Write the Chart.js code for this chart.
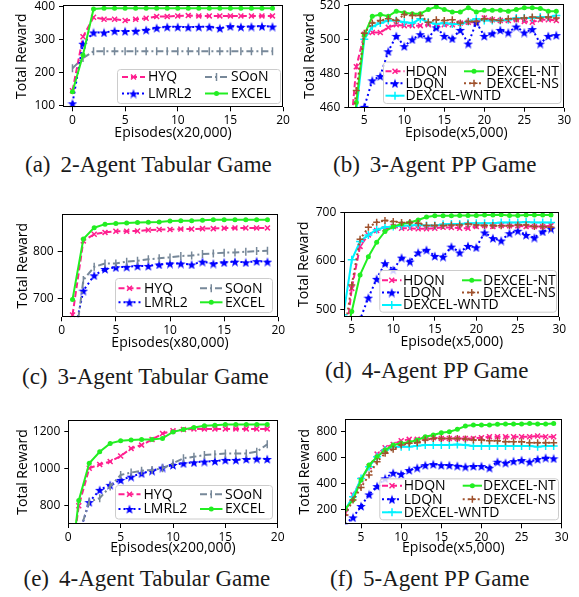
<!DOCTYPE html>
<html lang="en">
<head>
<meta charset="UTF-8" />
<title>Total reward curves</title>
<script src="https://cdn.jsdelivr.net/npm/chart.js"></script>
<style>
  html, body { margin: 0; padding: 0; background: #fff; }
  body { position: relative; width: 579px; height: 597px; overflow: hidden; }
  canvas { position: absolute; }
  .cap {
    position: absolute;
    transform: translateY(-50%);
    white-space: nowrap;
    font-family: "Liberation Serif", "Times New Roman", serif;
    font-size: 23px;
    color: #1a1a1a;
  }
  .cap span { margin-right: 10px; }
</style>
</head>
<body>
<div class="cap" style="left:25px;top:165px"><span>(a)</span>2-Agent Tabular Game</div>
<div class="cap" style="left:333px;top:165px"><span>(b)</span>3-Agent PP Game</div>
<div class="cap" style="left:22px;top:377px"><span>(c)</span>3-Agent Tabular Game</div>
<div class="cap" style="left:325px;top:371px"><span>(d)</span>4-Agent PP Game</div>
<div class="cap" style="left:23.5px;top:579px"><span>(e)</span>4-Agent Tabular Game</div>
<div class="cap" style="left:330px;top:579px"><span>(f)</span>5-Agent PP Game</div>

<script>
// ---------- data ----------
// (a) 2-agent tabular game, episodes x20,000
const epA = [0, 1, 2, 3, 4, 5, 6, 7, 8, 9, 10, 11, 12, 13, 14, 15, 16, 17, 18, 19];
const hyqA = [146, 309, 368, 362, 362, 358, 362, 365, 370, 370, 372, 373, 372, 372, 372, 372, 372, 372, 372, 372];
const lmrl2A = [108, 288, 322, 322, 327, 326, 327, 330, 336, 339, 339, 338, 339, 339, 335, 341, 339, 340, 341, 340];
const soonA = [214, 245, 265, 265, 265, 265, 265, 265, 265, 265, 265, 265, 265, 265, 265, 265, 265, 265, 265, 265];
const excelA = [143, 254, 393, 395, 395, 395, 395, 395, 395, 395, 395, 395, 395, 395, 395, 395, 395, 395, 395, 395];

// (b) 3-agent PP game, episode x5,000
const epB = [3, 4, 5, 6, 7, 8, 9, 10, 11, 12, 13, 14, 15, 16, 17, 18, 19, 20, 21, 22, 23, 24, 25, 26, 27, 28, 29];
const hdqnB = [430, 484, 503, 504, 504, 507, 508.5, 508, 508, 508, 508.5, 507.5, 508.5, 508.5, 509.5, 510, 510, 512.5, 511.5, 511, 511, 511.5, 510.5, 510, 511.5, 511.5, 511];
const ldqnB = [380, 420, 460.5, 476, 478.5, 493, 502, 496, 500, 503, 500.5, 507, 502, 500.5, 505.5, 497.5, 510, 502, 503.5, 505.5, 504, 507.5, 504, 506, 497.5, 502, 502.5];
const wntdB = [400, 458, 500, 507.5, 509.5, 511, 511, 510, 509.5, 512, 510, 509, 509.5, 509, 509, 510.5, 512, 511, 511, 511, 511.5, 512.5, 512.5, 512.5, 513, 513, 514];
const ntB = [400, 463, 502.5, 513.5, 514.5, 513.5, 516.5, 515.5, 515, 515, 517.5, 519, 517.5, 516, 516, 518.5, 516, 517, 517, 517, 516.5, 517.5, 518.5, 518.5, 518, 516.5, 516.5];
const nsB = [430, 470, 503.5, 509.5, 511, 512, 511, 514.5, 514, 514, 510, 511.5, 511, 511.5, 509.5, 510.5, 510.5, 512, 511.5, 511, 512, 512, 512.5, 513, 512.5, 513, 512.5];

// (c) 3-agent tabular game, episodes x80,000
const epC = [1, 2, 3, 4, 5, 6, 7, 8, 9, 10, 11, 12, 13, 14, 15, 16, 17, 18, 19];
const hyqC = [666, 823, 837, 841, 843.5, 843.5, 844, 846, 847, 847, 848, 848, 849, 849, 850, 850.5, 850.5, 850.5, 850.5];
const lmrl2C = [609, 717.5, 750, 763.5, 767, 768, 770, 770, 773, 775, 775, 773, 779, 775, 777.5, 779, 777.5, 780, 779];
const soonC = [564, 740, 768, 775, 775, 779, 781, 784, 786, 788, 791, 792, 795, 796.5, 798, 798.5, 800, 801.5, 802];
const excelC = [699, 827, 851, 858.5, 860, 861, 862, 862.5, 863, 865, 865.5, 865.5, 867, 868, 868, 868, 868, 868, 868];

// (d) 4-agent PP game, episode x5,000
const epD = [4, 5, 6, 7, 8, 9, 10, 11, 12, 13, 14, 15, 16, 17, 18, 19, 20, 21, 22, 23, 24, 25, 26, 27, 28, 29];
const hdqnD = [400, 544, 630, 653.5, 662.5, 666, 670.5, 667, 667, 666, 666, 667, 669, 668.5, 667, 667, 670.5, 672.5, 670.5, 672.5, 672, 672, 670.5, 670.5, 670.5, 672.5];
const ldqnD = [380, 420, 480, 525, 563.5, 595.5, 582, 607, 599, 617.5, 623, 610.5, 609, 629.5, 617.5, 631, 628, 658.5, 647, 642, 657, 662, 653.5, 648, 660.5, 666.5];
const wntdD = [490, 602.5, 640, 653.5, 664, 669, 670.5, 672, 672.5, 674, 672.5, 672.5, 675.5, 676, 676, 677.5, 677.5, 677.5, 677.5, 679, 679, 679, 680, 679, 679, 679];
const ntD = [430, 496.5, 571.5, 609, 638.5, 660.5, 670.5, 676, 679, 684, 690, 692.5, 692.5, 692.5, 693, 693, 693, 694, 694, 694.5, 693, 693, 694, 694, 694, 694];
const nsD = [440, 551, 644.5, 669, 679.5, 683, 681, 679, 679, 677.5, 672.5, 672.5, 672.5, 674, 674, 676, 674, 672.5, 672.5, 672, 672, 674, 674, 670.5, 670.5, 669];

// (e) 4-agent tabular game, episodes x200,000
const epE = [0, 1, 2, 3, 4, 5, 6, 7, 8, 9, 10, 11, 12, 13, 14, 15, 16, 17, 18, 19];
const hyqE = [380, 798, 1000, 1021, 1036, 1066, 1107, 1125, 1155, 1187, 1202, 1209, 1212, 1212, 1212, 1212, 1212, 1212, 1212, 1212];
const lmrl2E = [400, 640, 818, 884, 911, 937.5, 955, 973, 987, 1004, 1018, 1027, 1032, 1036, 1039, 1045, 1045, 1050, 1052, 1050];
const soonE = [400, 640, 821, 839, 902, 964, 977, 987, 991, 1000, 1027, 1054, 1062, 1071, 1075, 1080, 1080, 1080, 1089, 1129];
const excelE = [360, 827, 1027, 1089, 1134, 1148, 1152, 1155, 1155, 1161, 1196, 1209, 1220, 1229, 1232, 1236, 1236, 1236, 1236, 1236];

// (f) 5-agent PP game, episode x5,000
const epF = [3, 4, 5, 6, 7, 8, 9, 10, 11, 12, 13, 14, 15, 16, 17, 18, 19, 20, 21, 22, 23, 24, 25, 26, 27, 28, 29];
const hdqnF = [169, 311, 427, 530, 627, 676, 702, 730, 741, 741, 748, 754, 748, 748, 748, 748, 748, 754, 761, 761, 761, 761, 761, 761, 767, 761, 761];
const ldqnF = [87, 138, 226, 316, 380, 440, 483, 473, 504, 522, 542, 550, 542, 542, 537, 530, 535, 535, 522, 568, 560, 573, 581, 568, 589, 599, 594];
const wntdF = [195, 298, 439, 530, 607, 658, 684, 684, 684, 692, 697, 697, 697, 697, 702, 697, 689, 689, 689, 689, 689, 689, 689, 689, 684, 689, 689];
const ntF = [200, 272, 427, 542, 607, 658, 697, 710, 718, 736, 761, 774, 792, 800, 818, 844, 851, 851, 851, 857, 859, 859, 859, 864, 859, 859, 864];
const nsF = [156, 272, 370, 465, 568, 633, 664, 697, 710, 715, 736, 748, 748, 748, 748, 743, 736, 736, 730, 730, 723, 723, 723, 715, 715, 715, 715];

// tick labels
const xTicks20 = [0, 5, 10, 15, 20];
const xTicks30 = [5, 10, 15, 20, 25, 30];
const yTicksA = [100, 200, 300, 400];
const yTicksB = [460, 480, 500, 520];
const yTicksC = [700, 800];
const yTicksD = [500, 600, 700];
const yTicksE = [800, 1000, 1200];
const yTicksF = [200, 400, 600, 800];

// ---------- styles ----------
const FONT = '"Open Sans", "Noto Sans", sans-serif';
const PINK = '#ff1f8f', BLUE = '#0000ff', GRAY = '#778899',
      GREEN = '#22ee22', CYAN = '#00f2ff', BROWN = '#a0522d';

function makeStar(color, size) {
  const c = document.createElement('canvas');
  c.width = c.height = size;
  const g = c.getContext('2d');
  const r = size / 2, ri = r * 0.42;
  g.beginPath();
  for (let k = 0; k < 10; k++) {
    const rad = k % 2 ? ri : r;
    const a = -Math.PI / 2 + k * Math.PI / 5;
    const px = r + rad * Math.cos(a), py = r + rad * Math.sin(a) + 0.6;
    k ? g.lineTo(px, py) : g.moveTo(px, py);
  }
  g.closePath();
  g.fillStyle = color;
  g.fill();
  return c;
}
const starImg = makeStar(BLUE, 10);

const stPink = { borderColor: PINK, borderDash: [6, 3], pointStyle: 'crossRot', pointRadius: 3.5,
                 pointBorderWidth: 1.5, pointBorderColor: PINK, pointBackgroundColor: PINK };
const stBlue = { borderColor: BLUE, borderDash: [2, 3], pointStyle: starImg, pointRadius: 5,
                 pointBorderWidth: 0, pointBorderColor: BLUE, pointBackgroundColor: BLUE };
const stGray = { borderColor: GRAY, borderDash: [7, 3, 2, 3], pointStyle: 'line', pointRotation: 90,
                 pointRadius: 4, pointBorderWidth: 1.5, pointBorderColor: GRAY, pointBackgroundColor: GRAY };
const stGreen = { borderColor: GREEN, pointStyle: 'circle', pointRadius: 2.5,
                  pointBorderWidth: 0, pointBorderColor: GREEN, pointBackgroundColor: GREEN };
const stCyan = { borderColor: CYAN, pointStyle: 'cross', pointRadius: 4,
                 pointBorderWidth: 1.5, pointBorderColor: CYAN, pointBackgroundColor: CYAN };
const stBrown = { borderColor: BROWN, borderDash: [2, 3], pointStyle: 'cross', pointRadius: 3.5,
                  pointBorderWidth: 1.5, pointBorderColor: BROWN, pointBackgroundColor: BROWN };

// ---------- plugins ----------
const framePlugin = {
  id: 'frame',
  afterDraw(chart) {
    const { ctx, chartArea: a } = chart;
    const l = Math.round(a.left) + 0.5, t = Math.round(a.top) + 0.5;
    const r = Math.round(a.right) - 0.5, b = Math.round(a.bottom) - 0.5;
    ctx.save();
    ctx.strokeStyle = '#000';
    ctx.lineWidth = 1;
    ctx.strokeRect(l, t, r - l, b - t);
    ctx.restore();
  }
};

function roundRect(ctx, x, y, w, h, r) {
  ctx.beginPath();
  ctx.moveTo(x + r, y);
  ctx.arcTo(x + w, y, x + w, y + h, r);
  ctx.arcTo(x + w, y + h, x, y + h, r);
  ctx.arcTo(x, y + h, x, y, r);
  ctx.arcTo(x, y, x + w, y, r);
  ctx.closePath();
}

// matplotlib-like legend inside the axes, columns filled top to bottom
function legendPlugin(lg, dx, dy) {
  return {
    id: 'boxLegend',
    afterDatasetsDraw(chart) {
      const ctx = chart.ctx;
      const [x0, y0, x1, y1] = lg.box;
      ctx.save();
      roundRect(ctx, x0 - dx + 0.5, y0 - dy + 0.5, x1 - x0, y1 - y0, 3);
      ctx.fillStyle = 'rgba(255,255,255,0.8)';
      ctx.fill();
      ctx.strokeStyle = '#cccccc';
      ctx.lineWidth = 1;
      ctx.stroke();
      const nRows = lg.rows.length;
      chart.data.datasets.forEach((ds, i) => {
        const col = lg.cols[Math.floor(i / nRows)];
        const y = lg.rows[i % nRows] - dy;
        const sx0 = col[0] - dx, sx1 = col[1] - dx;
        ctx.setLineDash(ds.borderDash || []);
        ctx.strokeStyle = ds.borderColor;
        ctx.lineWidth = ds.borderWidth;
        ctx.beginPath();
        ctx.moveTo(sx0, y);
        ctx.lineTo(sx1, y);
        ctx.stroke();
        ctx.setLineDash([]);
        ctx.fillStyle = ds.pointBackgroundColor;
        ctx.strokeStyle = ds.pointBorderColor;
        ctx.lineWidth = ds.pointBorderWidth;
        Chart.helpers.drawPoint(ctx, {
          pointStyle: ds.pointStyle, rotation: ds.pointRotation || 0,
          radius: ds.pointRadius, borderWidth: ds.pointBorderWidth
        }, (sx0 + sx1) / 2, y);
        ctx.fillStyle = '#000';
        ctx.font = lg.size + 'px ' + FONT;
        ctx.textBaseline = 'middle';
        ctx.textAlign = 'left';
        ctx.fillText(ds.label, col[2] - dx, y + 0.5);
      });
      ctx.restore();
    }
  };
}

// ---------- one panel ----------
function makePanel(p) {
  const [L, T, R, B] = p.plot;
  const half = 14 * 1.2 / 2;
  const cl = Math.floor(p.yTitleX - half);
  const ct = Math.floor(T - 20);
  const cw = Math.ceil(R + 20 - cl);
  const ch = Math.ceil(p.xTitleY + half - ct);
  const cv = document.createElement('canvas');
  cv.width = cw;
  cv.height = ch;
  cv.style.left = cl + 'px';
  cv.style.top = ct + 'px';
  document.body.appendChild(cv);

  const tickFont = { family: FONT, size: 12 };
  const titleFont = { family: FONT, size: 14 };
  const common = {
    type: 'linear',
    grid: { drawOnChartArea: false, drawTicks: true, tickLength: 4, color: '#000', tickColor: '#000', tickWidth: 1 },
    border: { display: false },
  };

  new Chart(cv, {
    type: 'line',
    data: {
      datasets: p.series.map((s, i) => Object.assign({
        label: s.label,
        data: p.xs.map((x, k) => ({ x: x, y: s.ys[k] })),
        borderWidth: 2, tension: 0, fill: false, clip: 0, order: -i
      }, s.style))
    },
    options: {
      animation: false,
      responsive: false,
      devicePixelRatio: 1,
      events: [],
      layout: { padding: { left: 0, top: T - ct, right: cl + cw - R, bottom: 0 } },
      plugins: { legend: { display: false }, tooltip: { enabled: false } },
      scales: {
        x: Object.assign({}, common, {
          position: 'bottom',
          min: p.xRange[0], max: p.xRange[1],
          afterBuildTicks: s => { s.ticks = p.xTicks.map(v => ({ value: v })); },
          afterFit: s => { s.height = ct + ch - B; },
          ticks: { color: '#000', font: tickFont, padding: 2, maxRotation: 0, autoSkip: false, callback: v => String(v) },
          title: { display: true, text: p.xTitle, color: '#000', font: titleFont,
                   padding: { top: 0, bottom: ct + ch - (p.xTitleY + half) } }
        }),
        y: Object.assign({}, common, {
          position: 'left',
          min: p.yRange[0], max: p.yRange[1],
          afterBuildTicks: s => { s.ticks = p.yTicks.map(v => ({ value: v })); },
          afterFit: s => { s.width = L - cl; },
          ticks: { color: '#000', font: tickFont, padding: 4, autoSkip: false, callback: v => String(v) },
          title: { display: true, text: 'Total Reward', color: '#000', font: titleFont,
                   padding: { top: p.yTitleX - half - cl, bottom: 0 } }
        })
      }
    },
    plugins: [framePlugin, legendPlugin(p.legend, cl, ct)]
  });
}

// ---------- panels ----------
makePanel({
  plot: [63, 5, 283, 107.3], yTitleX: 22, xTitleY: 133.5,
  xRange: [-0.9, 20], yRange: [96, 405], xTicks: xTicks20, yTicks: yTicksA,
  xTitle: 'Episodes(x20,000)', xs: epA,
  series: [
    { label: 'HYQ', ys: hyqA, style: stPink },
    { label: 'LMRL2', ys: lmrl2A, style: stBlue },
    { label: 'SOoN', ys: soonA, style: stGray },
    { label: 'EXCEL', ys: excelA, style: stGreen }
  ],
  legend: { box: [117, 69, 280, 103], rows: [77, 93.5], cols: [[122, 145, 148], [205, 228, 231]], size: 14 }
});

makePanel({
  plot: [348.3, 4.3, 564.3, 107.7], yTitleX: 310, xTitleY: 133.5,
  xRange: [3, 30], yRange: [460, 520.5], xTicks: xTicks30, yTicks: yTicksB,
  xTitle: 'Episode(x5,000)', xs: epB,
  series: [
    { label: 'HDQN', ys: hdqnB, style: stPink },
    { label: 'LDQN', ys: ldqnB, style: stBlue },
    { label: 'DEXCEL-WNTD', ys: wntdB, style: stCyan },
    { label: 'DEXCEL-NT', ys: ntB, style: stGreen },
    { label: 'DEXCEL-NS', ys: nsB, style: stBrown }
  ],
  legend: { box: [383, 61.5, 560.5, 103], rows: [71.3, 83.3, 95.7], cols: [[385.5, 404.5, 405.5], [464, 484, 486.3]], size: 14 }
});

makePanel({
  plot: [61.7, 214, 278.3, 317.3], yTitleX: 23.5, xTitleY: 343.3,
  xRange: [0, 20], yRange: [661, 880], xTicks: xTicks20, yTicks: yTicksC,
  xTitle: 'Episodes(x80,000)', xs: epC,
  series: [
    { label: 'HYQ', ys: hyqC, style: stPink },
    { label: 'LMRL2', ys: lmrl2C, style: stBlue },
    { label: 'SOoN', ys: soonC, style: stGray },
    { label: 'EXCEL', ys: excelC, style: stGreen }
  ],
  legend: { box: [115, 278, 272, 312], rows: [288.3, 302.3], cols: [[118.5, 140.5, 144], [200, 222.5, 225]], size: 14 }
});

makePanel({
  plot: [344.3, 211.7, 559.3, 316.7], yTitleX: 304.5, xTitleY: 341.7,
  xRange: [4.1, 30], yRange: [486, 701], xTicks: xTicks30, yTicks: yTicksD,
  xTitle: 'Episode(x5,000)', xs: epD,
  series: [
    { label: 'HDQN', ys: hdqnD, style: stPink },
    { label: 'LDQN', ys: ldqnD, style: stBlue },
    { label: 'DEXCEL-WNTD', ys: wntdD, style: stCyan },
    { label: 'DEXCEL-NT', ys: ntD, style: stGreen },
    { label: 'DEXCEL-NS', ys: nsD, style: stBrown }
  ],
  legend: { box: [379.3, 270, 556, 311.7], rows: [280.3, 292.5, 305], cols: [[382, 401.5, 403], [462, 481.5, 483]], size: 14 }
});

makePanel({
  plot: [68.3, 420, 277.7, 524], yTitleX: 23.5, xTitleY: 548.3,
  xRange: [0, 20], yRange: [700, 1260], xTicks: xTicks20, yTicks: yTicksE,
  xTitle: 'Episodes(x200,000)', xs: epE,
  series: [
    { label: 'HYQ', ys: hyqE, style: stPink },
    { label: 'LMRL2', ys: lmrl2E, style: stBlue },
    { label: 'SOoN', ys: soonE, style: stGray },
    { label: 'EXCEL', ys: excelE, style: stGreen }
  ],
  legend: { box: [115, 485, 272, 518.5], rows: [494.3, 509], cols: [[118.5, 140.5, 143.5], [200, 222.5, 225]], size: 14 }
});

makePanel({
  plot: [345, 419, 561.7, 524.3], yTitleX: 305.3, xTitleY: 548.3,
  xRange: [3, 30], yRange: [85, 898], xTicks: xTicks30, yTicks: yTicksF,
  xTitle: 'Episode(x5,000)', xs: epF,
  series: [
    { label: 'HDQN', ys: hdqnF, style: stPink },
    { label: 'LDQN', ys: ldqnF, style: stBlue },
    { label: 'DEXCEL-WNTD', ys: wntdF, style: stCyan },
    { label: 'DEXCEL-NT', ys: ntF, style: stGreen },
    { label: 'DEXCEL-NS', ys: nsF, style: stBrown }
  ],
  legend: { box: [379.3, 478.3, 558, 519.3], rows: [485.7, 499.3, 512.3], cols: [[382, 402, 403.7], [462.7, 482, 483]], size: 14 }
});
</script>
</body>
</html>
